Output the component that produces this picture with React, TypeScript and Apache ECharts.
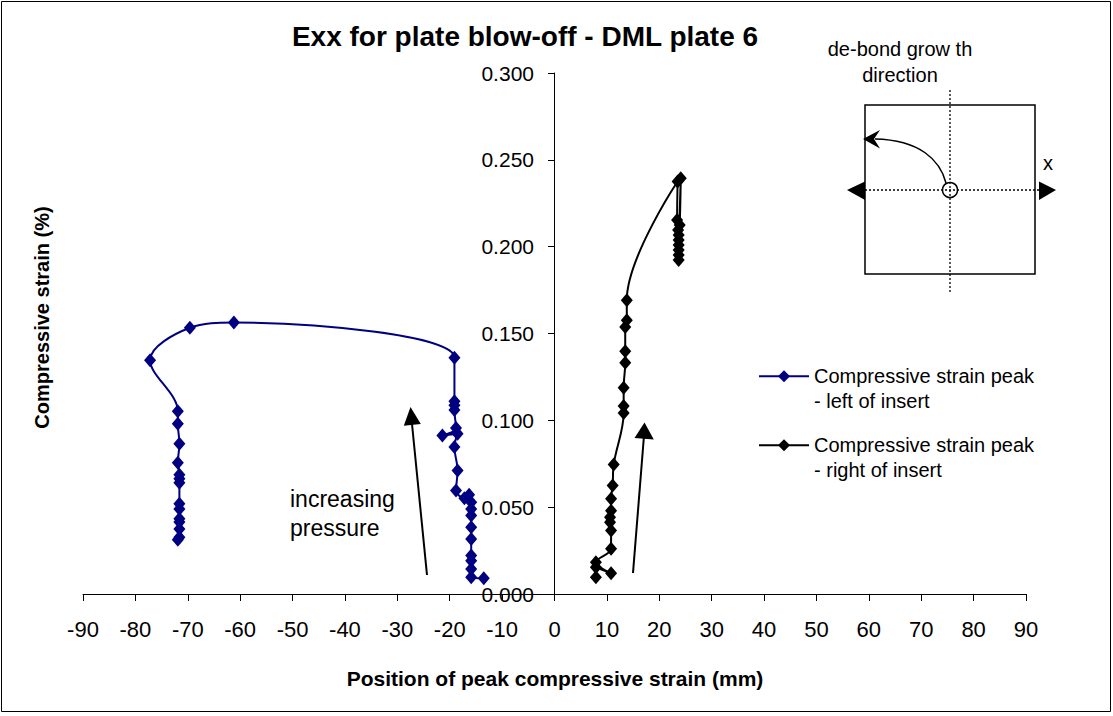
import React, { useEffect, useRef } from "react";
import * as echarts from "echarts";

const FONT = '"Liberation Sans", Arial, Helvetica, sans-serif';

const chartTitle = "Exx for plate blow-off - DML plate 6";
const xAxisTitle = "Position of peak compressive strain (mm)";
const yAxisTitle = "Compressive strain (%)";
const leftName = "Compressive strain peak\n- left of insert";
const rightName = "Compressive strain peak\n- right of insert";

// Left-of-insert series (position mm, strain %), in order of increasing pressure
const leftX = [
  -13.5, -15.9, -15.9, -15.9, -15.9, -15.9, -15.9, -15.9, -15.9, -15.9,
  -16.3, -17.2, -18.8, -18.5, -19.1, -18.5, -21.4, -18.8, -19.1, -19.1,
  -19.1, -19.1, -61.2, -69.6, -77.2, -71.9, -71.9, -71.6, -71.9, -71.6,
  -71.6, -71.6, -71.6, -71.6, -71.6, -71.6, -71.6, -71.6, -71.9,
];
const leftY = [
  0.009, 0.0096, 0.0144, 0.0192, 0.0221, 0.0317, 0.0385, 0.0452, 0.049, 0.0529,
  0.0571, 0.0552, 0.0596, 0.0711, 0.0846, 0.0923, 0.0913, 0.0956, 0.106, 0.1087,
  0.111, 0.136, 0.1563, 0.1533, 0.1346, 0.1052, 0.0981, 0.0865, 0.0756, 0.0687,
  0.0664, 0.064, 0.0519, 0.049, 0.0433, 0.0414, 0.0375, 0.0327, 0.0313,
];

// Right-of-insert series
const rightX = [
  7.9, 7.9, 10.8, 7.9, 10.8, 10.8, 10.6, 10.6, 10.8, 10.8,
  11.1, 11.3, 13.2, 13.2, 13.2, 13.5, 13.5, 13.5, 13.8, 13.8,
  23.5, 23.4, 23.6, 24.1, 23.9, 23.7, 23.7, 23.7, 23.7, 23.7, 23.7,
];
const rightY = [
  0.0096, 0.0154, 0.0119, 0.0183, 0.026, 0.0365, 0.0413, 0.0442, 0.048, 0.0548,
  0.0625, 0.0746, 0.1042, 0.1083, 0.1188, 0.1331, 0.1398, 0.1538, 0.1577, 0.1692,
  0.2375, 0.2154, 0.2096, 0.2394, 0.2125, 0.2067, 0.2038, 0.201, 0.1981, 0.1952, 0.1923,
];

const xRange = { min: -90, max: 90, interval: 10 };
const yRange = { min: 0, max: 0.3, interval: 0.05 };

const pairs = (xs: number[], ys: number[]) => xs.map((x, i) => [x, ys[i]]);

export default function App() {
  const ref = useRef<HTMLDivElement>(null);

  useEffect(() => {
    if (!ref.current) return;
    const chart = echarts.init(ref.current, undefined, { renderer: "svg" });

    const gridLeft = 83;
    const gridRight = 87;
    const plotW = 1113 - gridLeft - gridRight;
    const zeroX = gridLeft + ((0 - xRange.min) / (xRange.max - xRange.min)) * plotW;

    const lineSeries = (name: string, data: number[][], color: string) => ({
      name,
      type: "line",
      data,
      smooth: 0.35,
      symbol: "diamond",
      symbolSize: [12, 14],
      lineStyle: { color, width: 2 },
      itemStyle: { color },
      clip: false,
    });

    chart.setOption({
      animation: false,
      backgroundColor: "#ffffff",
      textStyle: { fontFamily: FONT },
      title: {
        text: chartTitle,
        left: 525,
        top: 22,
        padding: 0,
        textAlign: "center",
        textStyle: { fontFamily: FONT, fontSize: 28, fontWeight: "bold", color: "#000" },
      },
      grid: { left: gridLeft, right: gridRight, top: 73, bottom: 122, containLabel: false },
      xAxis: {
        type: "value",
        min: xRange.min,
        max: xRange.max,
        interval: xRange.interval,
        axisLine: { onZero: true, lineStyle: { color: "#000", width: 1 } },
        axisTick: { show: true, length: 7, lineStyle: { color: "#000" } },
        axisLabel: { fontFamily: FONT, fontSize: 22, color: "#000", margin: 24 },
        splitLine: { show: false },
      },
      yAxis: {
        type: "value",
        min: yRange.min,
        max: yRange.max,
        interval: yRange.interval,
        position: "left",
        offset: -(zeroX - gridLeft) + 0.5,
        axisLine: { show: true, onZero: false, lineStyle: { color: "#000", width: 1 } },
        axisTick: { show: true, length: 6, lineStyle: { color: "#000" } },
        axisLabel: {
          fontFamily: FONT,
          fontSize: 21,
          color: "#000",
          margin: 20,
          formatter: (v: number) => v.toFixed(3),
        },
        splitLine: { show: false },
      },
      legend: {
        orient: "vertical",
        left: 758,
        top: 339.5,
        padding: 0,
        itemWidth: 50,
        itemHeight: 15,
        itemGap: -4.5,
        data: [leftName, rightName],
        formatter: (name: string) => "\n" + name,
        textStyle: {
          fontFamily: FONT,
          fontSize: 20,
          color: "#000",
          lineHeight: 24.5,
        },
      },
      series: [
        lineSeries(leftName, pairs(leftX, leftY), "#000080"),
        lineSeries(rightName, pairs(rightX, rightY), "#000000"),
      ],
      graphic: [
        {
          type: "rect",
          silent: true,
          shape: { x: 1.5, y: 1.5, width: 1109, height: 710 },
          style: { fill: "none", stroke: "#000", lineWidth: 1 },
        },
        {
          type: "text",
          x: 42,
          y: 317.5,
          rotation: Math.PI / 2,
          style: {
            text: yAxisTitle,
            fontFamily: FONT,
            fontSize: 20,
            fontWeight: "bold",
            fill: "#000",
            align: "center",
            verticalAlign: "middle",
          },
        },
        {
          type: "text",
          x: 555,
          y: 678,
          style: {
            text: xAxisTitle,
            fontFamily: FONT,
            fontSize: 21,
            fontWeight: "bold",
            fill: "#000",
            align: "center",
            verticalAlign: "middle",
          },
        },
        // annotation text
        {
          type: "text",
          x: 290,
          y: 484,
          style: {
            text: "increasing\npressure",
            fontFamily: FONT,
            fontSize: 23,
            lineHeight: 29,
            fill: "#000",
            align: "left",
            verticalAlign: "top",
          },
        },
        // arrow 1
        {
          type: "line",
          shape: { x1: 427, y1: 575, x2: 412, y2: 424 },
          style: { stroke: "#000", lineWidth: 2 },
        },
        {
          type: "polygon",
          shape: { points: [[410.5, 407], [420.8, 424.1], [403.8, 425.7]] },
          style: { fill: "#000" },
        },
        // arrow 2
        {
          type: "line",
          shape: { x1: 633, y1: 573, x2: 643.8, y2: 438 },
          style: { stroke: "#000", lineWidth: 2 },
        },
        {
          type: "polygon",
          shape: { points: [[644.5, 422.5], [653.8, 439.5], [634.5, 438]] },
          style: { fill: "#000" },
        },
        // inset diagram
        {
          type: "text",
          x: 900,
          y: 36,
          style: {
            text: "de-bond grow th\ndirection",
            fontFamily: FONT,
            fontSize: 20,
            lineHeight: 26,
            fill: "#000",
            align: "center",
            verticalAlign: "top",
          },
        },
        {
          type: "rect",
          shape: { x: 865, y: 105, width: 170, height: 169 },
          style: { fill: "none", stroke: "#000", lineWidth: 1.5 },
        },
        {
          type: "line",
          shape: { x1: 950, y1: 90, x2: 950, y2: 294 },
          style: { stroke: "#000", lineWidth: 1.3, lineDash: [2, 2] },
        },
        {
          type: "line",
          shape: { x1: 865, y1: 190, x2: 1040, y2: 190 },
          style: { stroke: "#000", lineWidth: 1.3, lineDash: [2, 2] },
        },
        {
          type: "circle",
          shape: { cx: 950, cy: 190, r: 7.5 },
          style: { fill: "none", stroke: "#000", lineWidth: 1.5 },
        },
        {
          type: "polygon",
          shape: { points: [[847, 190], [865, 181.5], [865, 200]] },
          style: { fill: "#000" },
        },
        {
          type: "polygon",
          shape: { points: [[1056, 190], [1039, 181.5], [1039, 200]] },
          style: { fill: "#000" },
        },
        {
          type: "bezierCurve",
          shape: { x1: 946, y1: 183, cpx1: 940, cpy1: 160, cpx2: 920, cpy2: 140, x2: 875, y2: 139 },
          style: { stroke: "#000", lineWidth: 1.5, fill: "none" },
        },
        {
          type: "polygon",
          shape: { points: [[863, 139], [880, 130], [874, 139], [880, 148.5]] },
          style: { fill: "#000" },
        },
        {
          type: "text",
          x: 1048,
          y: 163,
          style: {
            text: "x",
            fontFamily: FONT,
            fontSize: 20,
            fill: "#000",
            align: "center",
            verticalAlign: "middle",
          },
        },
      ],
    });

    return () => chart.dispose();
  }, []);

  return (
    <div
      ref={ref}
      style={{ position: "fixed", left: 0, top: 0, width: 1113, height: 716, background: "#fff" }}
    />
  );
}
